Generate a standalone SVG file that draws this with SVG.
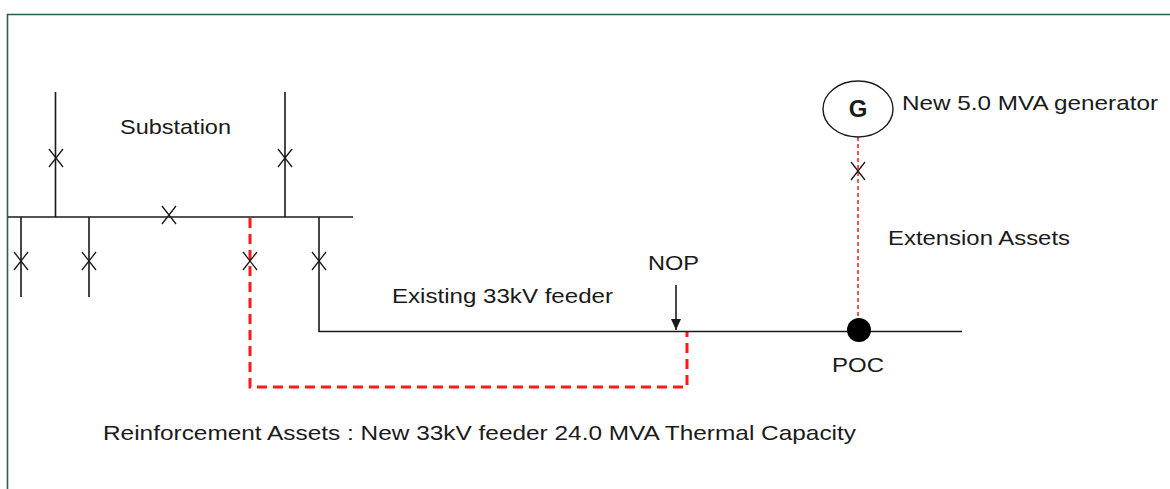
<svg xmlns="http://www.w3.org/2000/svg" width="1170" height="489" viewBox="0 0 1170 489">
<style>
.ln{stroke:#1a1a1a;stroke-width:1.6;fill:none}
.rd{stroke:#ff1a1a;stroke-width:3;stroke-dasharray:10 6;fill:none}
.rt{stroke:#ff1a1a;stroke-width:1.5;stroke-dasharray:4 3;fill:none}
.x{stroke:#1a1a1a;stroke-width:1.3;fill:none}
text{font-family:"Liberation Sans",Arial,sans-serif;fill:#1a1a1a;font-size:21px}
</style>
<defs>
<path id="xm" class="x" d="M-7,-9 L7,9 M7,-9 L-7,9"/>
<marker id="ah" markerWidth="11" markerHeight="10" refX="11" refY="5" orient="auto" markerUnits="userSpaceOnUse" viewBox="0 0 11 10">
<path d="M0,0 L11,5 L0,10 Z" fill="#1a1a1a"/>
</marker>
</defs>
<rect x="0" y="0" width="1170" height="489" fill="#fff"/>
<path d="M7.5,489 L7.5,14.5 L1170,14.5" stroke="#2d5e4a" stroke-width="1.6" fill="none"/>

<g id="connectors">
<path class="rd" d="M250,218 L250,387 L687,387 L687,332"/>
<path class="rt" d="M858,137 L858,330"/>
<path class="ln" d="M676,285 L676,330" marker-end="url(#ah)"/>
</g>

<g id="substation">
<path class="ln" d="M8,217 L353,217"/>
<path class="ln" d="M55.5,92 L55.5,217 M285,92 L285,217"/>
<path class="ln" d="M21,217 L21,297 M89,217 L89,297"/>
<use href="#xm" x="56" y="158"/>
<use href="#xm" x="285" y="158"/>
<use href="#xm" x="169" y="215"/>
<use href="#xm" x="21" y="261"/>
<use href="#xm" x="89" y="261"/>
<use href="#xm" x="250" y="261"/>
<use href="#xm" x="319" y="261"/>
<text x="120" y="134" textLength="111" lengthAdjust="spacingAndGlyphs">Substation</text>
</g>

<g id="feeder">
<path class="ln" d="M319,217 L319,331.5 L962,331.5"/>
<text x="392" y="303" textLength="221" lengthAdjust="spacingAndGlyphs">Existing 33kV feeder</text>
</g>

<g id="nop">
<text x="648" y="270" textLength="51" lengthAdjust="spacingAndGlyphs">NOP</text>
</g>

<g id="poc">
<circle cx="859" cy="330" r="12" fill="#000"/>
<text x="832" y="372" textLength="52" lengthAdjust="spacingAndGlyphs">POC</text>
</g>

<g id="generator">
<ellipse cx="858" cy="109" rx="35" ry="28" fill="#fff" stroke="#1a1a1a" stroke-width="1.4"/>
<text x="858" y="117" text-anchor="middle" font-weight="bold" style="font-size:24px">G</text>
<text x="902" y="110" textLength="256" lengthAdjust="spacingAndGlyphs">New 5.0 MVA generator</text>
</g>

<g id="extension">
<use href="#xm" x="858" y="171"/>
<text x="888" y="245" textLength="182" lengthAdjust="spacingAndGlyphs">Extension Assets</text>
</g>

<g id="reinforcement">
<text x="103" y="440" textLength="753" lengthAdjust="spacingAndGlyphs">Reinforcement Assets : New 33kV feeder 24.0 MVA Thermal Capacity</text>
</g>
</svg>
